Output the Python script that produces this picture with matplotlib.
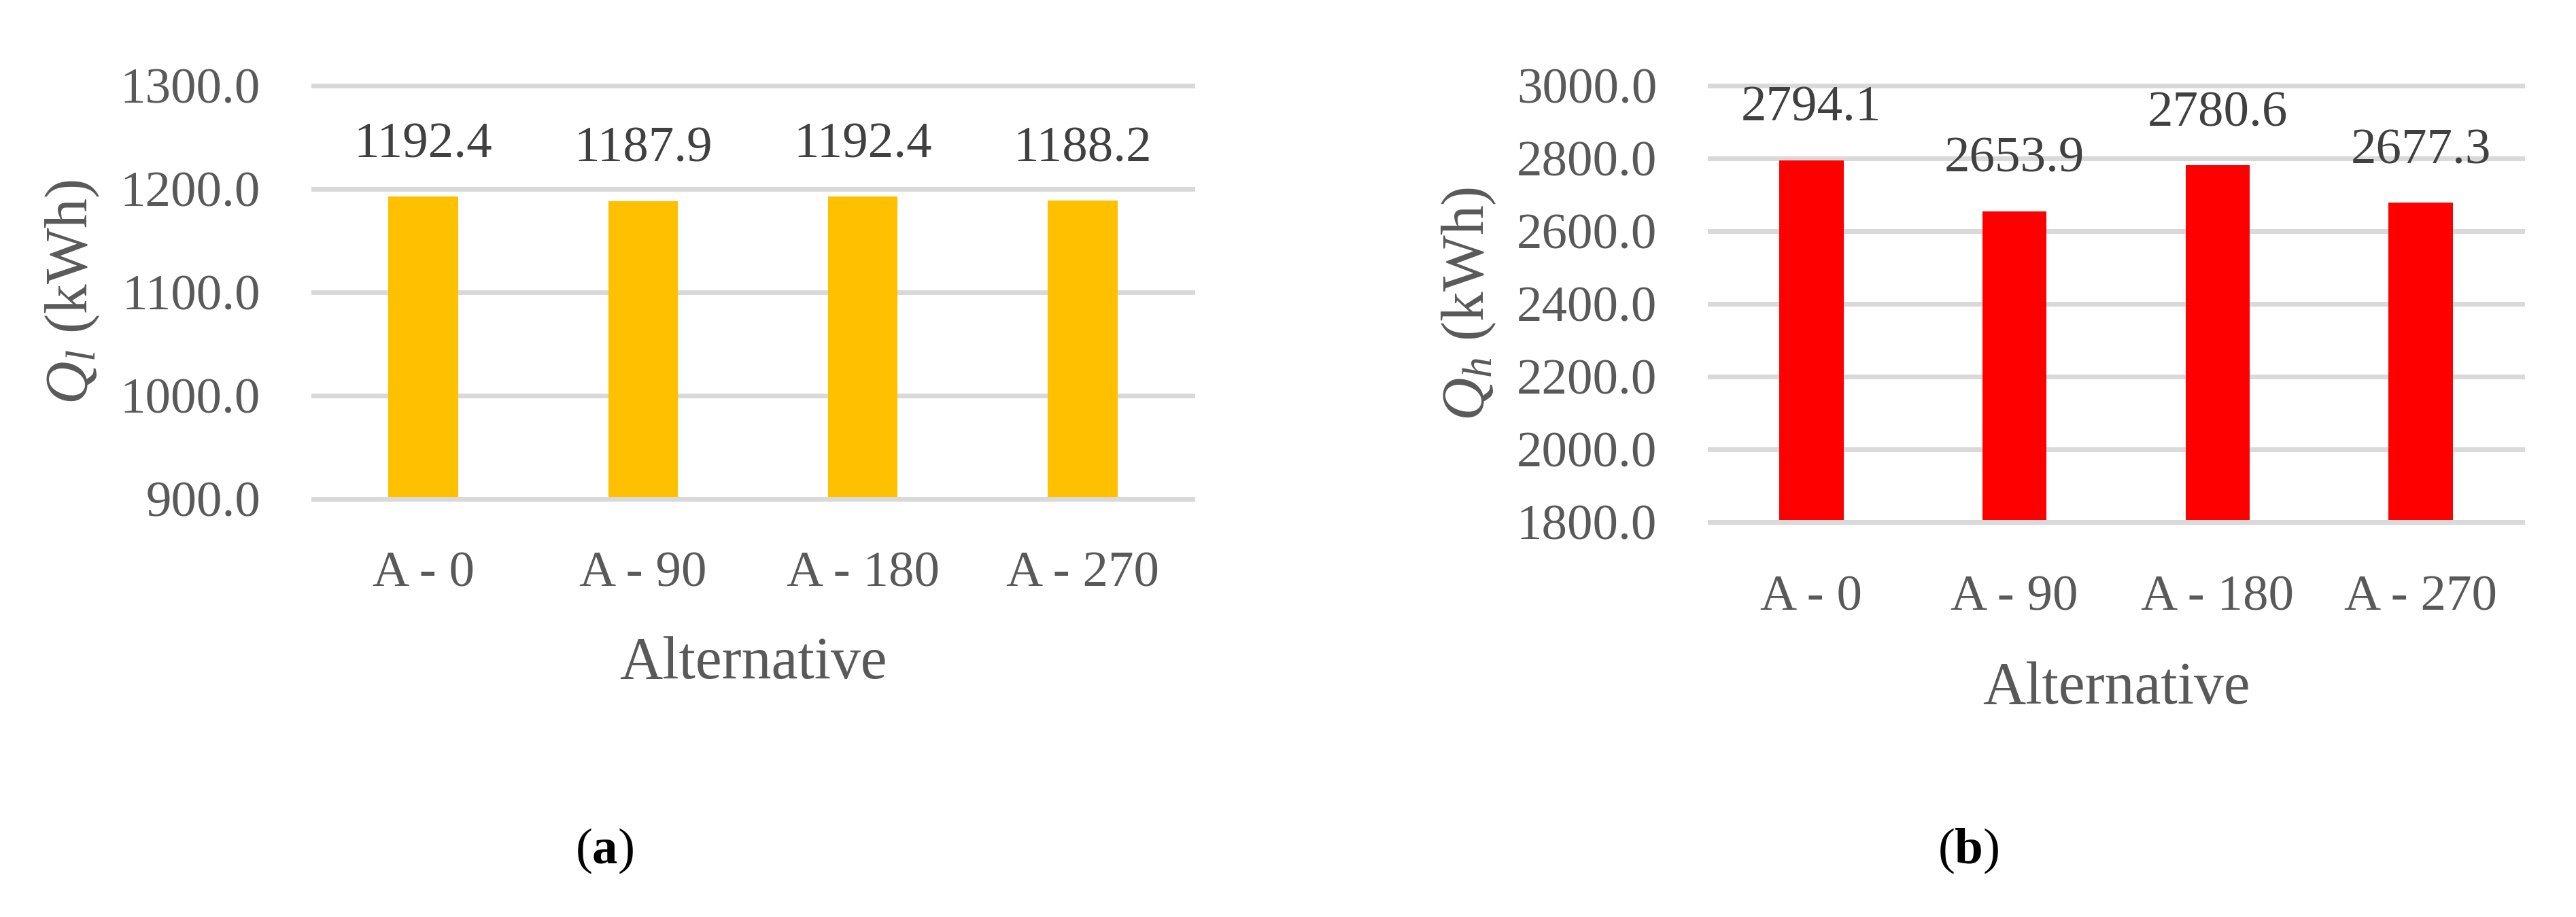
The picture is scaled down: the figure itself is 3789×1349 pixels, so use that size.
import matplotlib.pyplot as plt
import numpy as np

# data
alternatives = ["A - 0", "A - 90", "A - 180", "A - 270"]
q_light = [1192.4, 1187.9, 1192.4, 1188.2]
q_heat = [2794.1, 2653.9, 2780.6, 2677.3]
light_ticks = [900.0, 1000.0, 1100.0, 1200.0, 1300.0]
heat_ticks = [1800.0, 2000.0, 2200.0, 2400.0, 2600.0, 2800.0, 3000.0]

plt.rcParams['font.family'] = ['Liberation Serif', 'DejaVu Serif']
plt.rcParams['mathtext.fontset'] = 'custom'
plt.rcParams['mathtext.rm'] = 'Liberation Serif'
plt.rcParams['mathtext.it'] = 'Liberation Serif:italic'
plt.rcParams['mathtext.bf'] = 'Liberation Serif:bold'

DPI = 300
W, H = 3789, 1349
TICK_GRAY = '#595959'
LABEL_GRAY = '#404040'
GRID = '#D9D9D9'

fig = plt.figure(figsize=(W / DPI, H / DPI), dpi=DPI)


def px_axes(left, top, right, bottom):
    # axes box given in pixel coordinates of the output image
    return fig.add_axes([left / W, 1 - bottom / H, (right - left) / W, (bottom - top) / H])


def bar_panel(ax, values, ticks, color, ylabel, ylab_x, xlab_y):
    x = np.arange(len(values))
    ax.bar(x, np.array(values) - ticks[0], bottom=ticks[0], width=0.317, color=color, zorder=2)
    ax.set_xlim(-0.5, len(values) - 0.5)
    ax.set_ylim(ticks[0], ticks[-1])

    # horizontal gridlines, drawn unclipped so the edge lines are full width
    for t in ticks:
        ax.axhline(t, color=GRID, lw=1.68, zorder=3 if t == ticks[0] else 1, clip_on=False)

    for s in ax.spines.values():
        s.set_visible(False)

    ax.set_xticks(x)
    ax.set_xticklabels(alternatives)
    ax.set_yticks(ticks)
    ax.set_yticklabels([f"{t:.1f}" for t in ticks])
    ax.tick_params(length=0, labelsize=18, labelcolor=TICK_GRAY, pad=18.7)

    for xi, v in zip(x, values):
        ax.annotate(f"{v:.1f}", xy=(xi, v), xytext=(0, 13.9), textcoords='offset points',
                    ha='center', va='baseline', fontsize=18, color=LABEL_GRAY)

    ax.set_xlabel("Alternative", fontsize=21, color=TICK_GRAY)
    ax.xaxis.set_label_coords(0.5, xlab_y)
    ax.xaxis.label.set_va('baseline')

    # y label anchored on its baseline (rotation_mode='anchor' for axis labels)
    ax.set_ylabel(ylabel, fontsize=21, color=TICK_GRAY)
    ax.yaxis.set_label_coords(ylab_x, 0.5)
    ax.yaxis.label.set_ha('center')
    ax.yaxis.label.set_va('baseline')


ax1 = px_axes(461, 125.5, 1754, 733.5)
bar_panel(ax1, q_light, light_ticks, '#FFC000', r"$Q_l$ (kWh)", -0.2575, -0.435)

ax2 = px_axes(2515, 125.5, 3710, 768)
bar_panel(ax2, q_heat, heat_ticks, '#FF0000', r"$Q_h$ (kWh)", -0.2787, -0.4156)

fig.text(889 / W, 1 - 1252 / H, r"($\mathbf{a}$)", ha='center', va='center', fontsize=18, color='black')
fig.text(2895 / W, 1 - 1252 / H, r"($\mathbf{b}$)", ha='center', va='center', fontsize=18, color='black')

fig.savefig("out.png", dpi=DPI, facecolor='white')
